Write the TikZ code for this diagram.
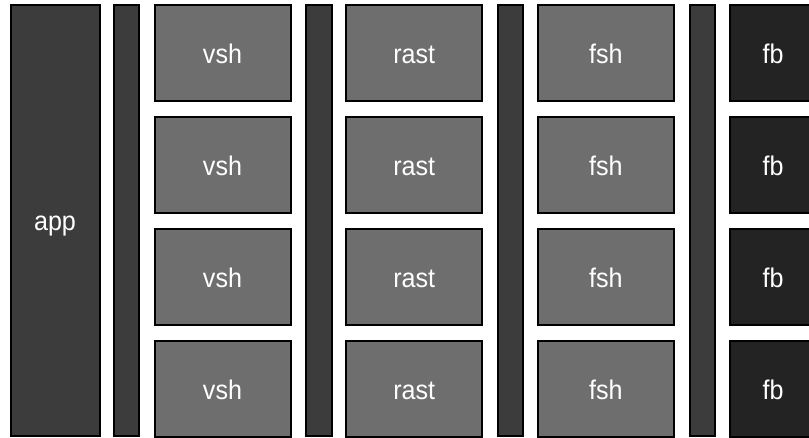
\documentclass[tikz,border=0pt]{standalone}
\usepackage{fontspec}
\setmainfont{Liberation Sans}[FakeStretch=0.93]
\usepackage{tikz}
\usetikzlibrary{positioning}

\definecolor{stagedark}{HTML}{3C3C3C}
\definecolor{stagemid}{HTML}{6E6E6E}
\definecolor{stagefb}{HTML}{232323}

\begin{document}
\begin{tikzpicture}[x=1pt,y=-1pt]
	 \tikzstyle{block}=[draw=black,line width=2pt,inner sep=0pt,text=white,text height=20.8pt,text depth=0pt,font=\fontsize{27}{31}\selectfont]
	 \tikzstyle{unit}=[block,fill=stagemid,minimum width=136pt,minimum height=95.5pt]
	 \tikzstyle{bar}=[block,fill=stagedark,minimum width=25.5pt,minimum height=431pt]
	 \tikzstyle{fbuf}=[block,fill=stagefb,minimum width=86pt,minimum height=95.5pt]
	 \useasboundingbox (0,0) rectangle (809,437);
	 \clip (0,0) rectangle (809,437);

	 \node[block,fill=stagedark,minimum width=89pt,minimum height=431pt] (app) at (55,220.5) {app};

	 \node[bar] (b1) at (126.5,220.5) {};
	 \node[bar] (b2) at (319,220.5) {};
	 \node[bar] (b3) at (510.5,220.5) {};
	 \node[bar] (b4) at (702.5,220.5) {};

	 \node[unit] (vsh1) at (222.5,52.9) {vsh};
	 \node[unit] (vsh2) at (222.5,164.9) {vsh};
	 \node[unit] (vsh3) at (222.5,276.9) {vsh};
	 \node[unit] (vsh4) at (222.5,388.9) {vsh};

	 \node[unit] (rast1) at (414.2,52.9) {rast};
	 \node[unit] (rast2) at (414.2,164.9) {rast};
	 \node[unit] (rast3) at (414.2,276.9) {rast};
	 \node[unit] (rast4) at (414.2,388.9) {rast};

	 \node[unit] (fsh1) at (605.8,52.9) {fsh};
	 \node[unit] (fsh2) at (605.8,164.9) {fsh};
	 \node[unit] (fsh3) at (605.8,276.9) {fsh};
	 \node[unit] (fsh4) at (605.8,388.9) {fsh};

	 \node[fbuf] (fb1) at (773,52.9) {fb};
	 \node[fbuf] (fb2) at (773,164.9) {fb};
	 \node[fbuf] (fb3) at (773,276.9) {fb};
	 \node[fbuf] (fb4) at (773,388.9) {fb};
 \end{tikzpicture}
\end{document}
